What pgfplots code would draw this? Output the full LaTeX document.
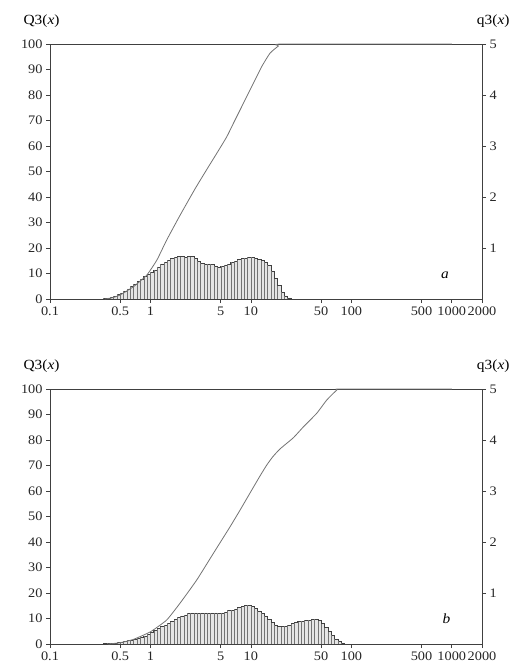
\documentclass[border=0pt]{standalone}
\usepackage{fontspec}
\setmainfont{Liberation Serif}[FakeStretch=1.1]
\usepackage{pgfplots}
\pgfplotsset{compat=1.18}
\usepackage{pgfplotstable}

\pgfplotstableread{
x q
0.3415 0.01
0.3687 0.02
0.3981 0.04
0.4299 0.06
0.4642 0.09
0.5012 0.12
0.5412 0.16
0.5843 0.20
0.6310 0.25
0.6813 0.29
0.7356 0.34
0.7943 0.39
0.8577 0.44
0.9261 0.48
1.0000 0.52
1.0798 0.57
1.1659 0.63
1.2589 0.69
1.3594 0.72
1.4678 0.76
1.5849 0.79
1.7113 0.82
1.8478 0.83
1.9953 0.83
2.1544 0.82
2.3263 0.83
2.5119 0.83
2.7123 0.80
2.9286 0.74
3.1623 0.70
3.4146 0.69
3.6869 0.69
3.9811 0.68
4.2987 0.65
4.6416 0.63
5.0119 0.64
5.4117 0.67
5.8434 0.68
6.3096 0.72
6.8129 0.74
7.3564 0.77
7.9433 0.79
8.5770 0.80
9.2612 0.82
10.000 0.82
10.798 0.80
11.659 0.77
12.589 0.75
13.594 0.72
14.678 0.66
15.849 0.55
17.113 0.40
18.478 0.26
19.953 0.14
21.544 0.06
23.263 0.02
25.119 0
}\histA

\pgfplotstableread{
x q
0.3415 0.005
0.3687 0.01
0.3981 0.01
0.4299 0.02
0.4642 0.03
0.5012 0.04
0.5412 0.05
0.5843 0.07
0.6310 0.08
0.6813 0.10
0.7356 0.12
0.7943 0.14
0.8577 0.16
0.9261 0.19
1.0000 0.22
1.0798 0.26
1.1659 0.30
1.2589 0.34
1.3594 0.37
1.4678 0.41
1.5849 0.44
1.7113 0.48
1.8478 0.52
1.9953 0.55
2.1544 0.57
2.3263 0.60
2.5119 0.61
2.7123 0.61
2.9286 0.60
3.1623 0.61
3.4146 0.61
3.6869 0.60
3.9811 0.61
4.2987 0.61
4.6416 0.60
5.0119 0.61
5.4117 0.62
5.8434 0.66
6.3096 0.66
6.8129 0.68
7.3564 0.71
7.9433 0.73
8.5770 0.75
9.2612 0.76
10.000 0.74
10.798 0.70
11.659 0.65
12.589 0.60
13.594 0.55
14.678 0.48
15.849 0.42
17.113 0.37
18.478 0.34
19.953 0.34
21.544 0.35
23.263 0.37
25.119 0.40
27.123 0.42
29.286 0.44
31.623 0.45
34.146 0.47
36.869 0.47
39.811 0.48
42.987 0.49
46.416 0.46
50.119 0.40
54.117 0.32
58.434 0.24
63.096 0.17
68.129 0.10
73.564 0.05
79.433 0.02
85.770 0
}\histB

\pgfplotstableread{
x Q
0.35 0
0.42 0.5
0.5 1.6
0.676 4.8
0.92 9.4
1.16 15.3
1.45 23.1
1.97 32.8
2.78 43.2
3.64 50.8
4.57 57.1
5.75 63.6
6.70 68.9
7.8 74.1
9.44 80.7
11.0 85.9
12.8 91.1
15.5 96.4
18.8 99.2
21 100
1000 100
}\cumA

\pgfplotstableread{
x Q
0.38 0
0.5 0.5
0.676 1.8
1.0 4.8
1.45 9.4
1.97 16
2.89 25.1
4.24 35.6
6.21 46
7.8 52.5
10.6 61.5
12.5 66.3
14.4 70.2
16.5 73.4
19.5 76.5
26.5 80.9
33.4 85.2
45.3 90.5
57 95.7
71.8 99.6
80 100
1000 100
}\cumB

\pgfplotsset{
  every axis/.append style={
    scale only axis, width=432pt, height=255pt,
    xmin=0.1, xmax=2000,
    tick align=outside, major tick length=4pt,
    axis line style={black!75, line width=0.7pt},
    tick style={black!75, line width=0.6pt},
    tick label style={font=\fontsize{13}{13}\selectfont, text=black!85},
    clip=false,
  },
}
\pgfkeys{/pgf/number format/assume math mode=true}

\begin{document}
\begin{tikzpicture}
\useasboundingbox (-50pt,-371pt) rectangle (464pt,299pt);
% ---------- panel a ----------
\begin{semilogxaxis}[at={(0pt,0pt)}, anchor=south west,
    ymin=0, ymax=5, ytick={1,2,3,4,5}, xminorticks=false,
    axis y line*=right, axis x line=none]
  \addplot[const plot, fill=black!10, draw=black!75, line width=0.6pt] table[x=x,y=q]{\histA} \closedcycle;
  \addplot[ycomb, draw=black!55, line width=0.45pt] table[x=x,y=q]{\histA};
\end{semilogxaxis}
\begin{semilogxaxis}[at={(0pt,0pt)}, anchor=south west,
    ymin=0, ymax=100, ytick={0,10,...,100}, xminorticks=false,
    xtick={0.1,0.5,1,5,10,50,100,500,1000,2000},
    xticklabels={0.1,0.5,1,5,10,50,100,500,1000,2000},
    xtick pos=bottom, ytick pos=left]
  \addplot[draw=black!55, line width=0.8pt, smooth, tension=0.3] table[x=x,y=Q]{\cumA};
  \node[anchor=base east, font=\fontsize{14}{14}\selectfont] at (axis description cs:0,1) [xshift=13pt,yshift=20pt] {Q3(\textit{x})};
  \node[anchor=base east, font=\fontsize{14}{14}\selectfont] at (axis description cs:1,1) [xshift=31pt,yshift=20pt] {q3(\textit{x})};
  \node[font=\itshape\fontsize{14}{14}\selectfont] at (axis description cs:0.914,0.094) {a};
\end{semilogxaxis}
% ---------- panel b ----------
\begin{semilogxaxis}[at={(0pt,-345pt)}, anchor=south west,
    ymin=0, ymax=5, ytick={1,2,3,4,5}, xminorticks=false,
    axis y line*=right, axis x line=none]
  \addplot[const plot, fill=black!10, draw=black!75, line width=0.6pt] table[x=x,y=q]{\histB} \closedcycle;
  \addplot[ycomb, draw=black!55, line width=0.45pt] table[x=x,y=q]{\histB};
\end{semilogxaxis}
\begin{semilogxaxis}[at={(0pt,-345pt)}, anchor=south west,
    ymin=0, ymax=100, ytick={0,10,...,100}, xminorticks=false,
    xtick={0.1,0.5,1,5,10,50,100,500,1000,2000},
    xticklabels={0.1,0.5,1,5,10,50,100,500,1000,2000},
    xtick pos=bottom, ytick pos=left]
  \addplot[draw=black!55, line width=0.8pt, smooth, tension=0.3] table[x=x,y=Q]{\cumB};
  \node[anchor=base east, font=\fontsize{14}{14}\selectfont] at (axis description cs:0,1) [xshift=13pt,yshift=20pt] {Q3(\textit{x})};
  \node[anchor=base east, font=\fontsize{14}{14}\selectfont] at (axis description cs:1,1) [xshift=31pt,yshift=20pt] {q3(\textit{x})};
  \node[font=\itshape\fontsize{14}{14}\selectfont] at (axis description cs:0.918,0.10) {b};
\end{semilogxaxis}
\end{tikzpicture}
\end{document}
